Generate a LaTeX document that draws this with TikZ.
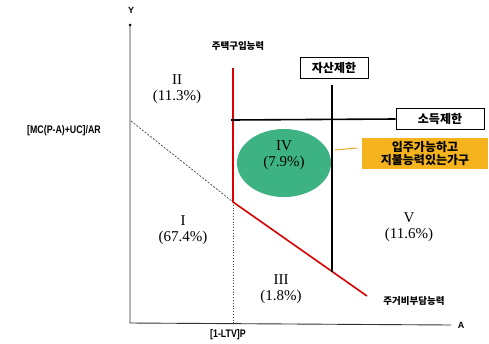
\documentclass[tikz,border=0pt]{standalone}
\usepackage{fontspec}
\usetikzlibrary{shapes.geometric}
\setmainfont{Liberation Serif}
\newfontfamily\kr{Noto Sans CJK KR}
\newfontfamily\lsans{Liberation Sans}
\definecolor{ellgreen}{RGB}{61,178,130}
\definecolor{noteorange}{RGB}{245,180,30}
\definecolor{lineorange}{RGB}{235,170,40}
\begin{document}
\begin{tikzpicture}[x=1pt,y=-1pt,
  region/.style={align=center,font=\fontsize{15}{16}\selectfont,inner sep=0pt},
  krlab/.style={font=\kr\bfseries\fontsize{9.5}{10}\selectfont,inner sep=1pt},
  limbox/.style={draw,thick,font=\kr\bfseries\fontsize{12}{13}\selectfont,minimum height=21pt,inner sep=2pt},
  ax/.style={line width=0.9pt,black!80}]
\useasboundingbox (0,0) rectangle (489,343);
% axes
\coordinate (O) at (130,323);
\coordinate (Ytop) at (130,25);
\coordinate (Xend) at (451,325);
\fill (Ytop) circle (1.5pt);
\draw[ax] (Ytop) -- (O) -- (Xend);
\node[font=\lsans\bfseries\fontsize{9}{10}\selectfont] (ylab) at (131,10) {Y};
\node[font=\lsans\bfseries\fontsize{9}{10}\selectfont] (xlab) at (461,325) {A};
% labels on axes
\node[font=\lsans\bfseries\fontsize{11}{12}\selectfont,xscale=0.8] (ylabel) at (64,131) {[MC(P-A)+UC]/AR};
\node[font=\lsans\bfseries\fontsize{11}{12}\selectfont,xscale=0.8] (xlabel) at (228,335) {[1-LTV]P};
% dashed line and dotted
\coordinate (Yint) at (131,121);
\coordinate (K) at (233,202);
\coordinate (Kb) at (233,323);
\draw[dash pattern=on 2pt off 1.5pt,line width=0.7pt,black!75] (Yint) -- (K);
\draw[dotted,line width=0.8pt,black!75] (K) -- (Kb);
% red lines
\coordinate (Rtop) at (233,68);
\coordinate (Rend) at (367,296);
% ellipse
\node[draw=none,fill=ellgreen,ellipse,minimum width=94pt,minimum height=68pt,inner sep=0pt] (ell) at (284,163) {};
\node[region] (r4) at (284,155) {IV\\(7.9\%)};
\draw[red!85!black,line width=1.6pt] (Rtop) -- (K) -- (Rend);
% black limit lines
\node[limbox,minimum width=68pt] (asset) at (334,68) {자산제한};
\node[limbox,minimum width=88pt] (income) at (440,119) {소득제한};
\coordinate (Vb) at (332,272);
\coordinate (Hl) at (231,120);
\draw[line width=1.6pt] (332,85) -- (Vb);
\draw[line width=1.6pt] (Hl) -- (income.west);
% orange note
\node[fill=noteorange,font=\kr\bfseries\fontsize{12}{13}\selectfont,align=center,minimum width=126pt,minimum height=31pt,inner sep=1pt] (note) at (425,153) {입주가능하고\\지불능력있는가구};
\coordinate (nl) at (335,150);
\draw[lineorange,line width=1pt] (nl) -- (357,148);
% region labels
\node[region] (r2) at (177,89) {II\\(11.3\%)};
\node[region] (r1) at (183,230) {I\\(67.4\%)};
\node[region] (r3) at (281,289) {III\\(1.8\%)};
\node[region] (r5) at (409,227) {V\\(11.6\%)};
% red line labels
\node[krlab] (buy) at (238,46) {주택구입능력};
\node[krlab] (pay) at (414,301) {주거비부담능력};
\end{tikzpicture}
\end{document}
